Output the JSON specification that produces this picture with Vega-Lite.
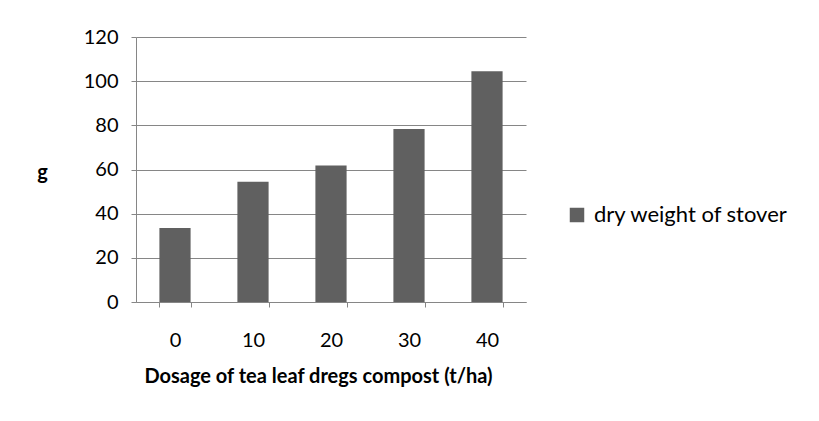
{
  "$schema": "https://vega.github.io/schema/vega-lite/v6.json",
  "width": 390,
  "height": 265,
  "autosize": {"type": "none"},
  "padding": {"left": 136, "top": 37, "right": 293, "bottom": 119},
  "background": "white",
  "data": {
    "values": [
      {"dose": "0", "weight": 33.5, "series": "dry weight of stover"},
      {"dose": "10", "weight": 54.4, "series": "dry weight of stover"},
      {"dose": "20", "weight": 61.8, "series": "dry weight of stover"},
      {"dose": "30", "weight": 78.3, "series": "dry weight of stover"},
      {"dose": "40", "weight": 104.5, "series": "dry weight of stover"}
    ]
  },
  "mark": {"type": "bar"},
  "encoding": {
    "x": {
      "field": "dose",
      "type": "ordinal",
      "sort": null,
      "scale": {"paddingInner": 0.6, "paddingOuter": 0.3},
      "axis": {
        "title": "Dosage of tea leaf dregs compost (t/ha)",
        "labelAngle": 0,
        "tickBand": "extent",
        "tickSize": 5,
        "labelPadding": 23,
        "titlePadding": 16,
        "titleX": 182
      }
    },
    "y": {
      "field": "weight",
      "type": "quantitative",
      "scale": {"domain": [0, 120], "nice": false},
      "axis": {
        "values": [0, 20, 40, 60, 80, 100, 120],
        "title": "g",
        "titleAngle": 0,
        "titleX": -94,
        "titleY": 135,
        "titleAlign": "center",
        "titleBaseline": "middle",
        "tickSize": 5,
        "labelPadding": 13,
        "grid": true
      }
    },
    "color": {
      "field": "series",
      "type": "nominal",
      "scale": {"range": ["#606060"]},
      "legend": {
        "title": null,
        "orient": "none",
        "legendX": 430,
        "legendY": 167,
        "symbolType": "square",
        "symbolSize": 210,
        "symbolStrokeWidth": 0,
        "labelFontSize": 22,
        "labelFont": "Lato",
        "labelColor": "black",
        "labelOffset": 6,
        "labelLimit": 300
      }
    }
  },
  "config": {
    "view": {"stroke": null},
    "font": "Lato",
    "axis": {
      "domainColor": "#868686",
      "tickColor": "#868686",
      "gridColor": "#868686",
      "gridOpacity": 1,
      "labelFont": "Lato",
      "labelFontSize": 20,
      "labelColor": "black",
      "titleFont": "Lato",
      "titleFontSize": 20,
      "titleFontWeight": "bold",
      "titleColor": "black"
    }
  }
}
